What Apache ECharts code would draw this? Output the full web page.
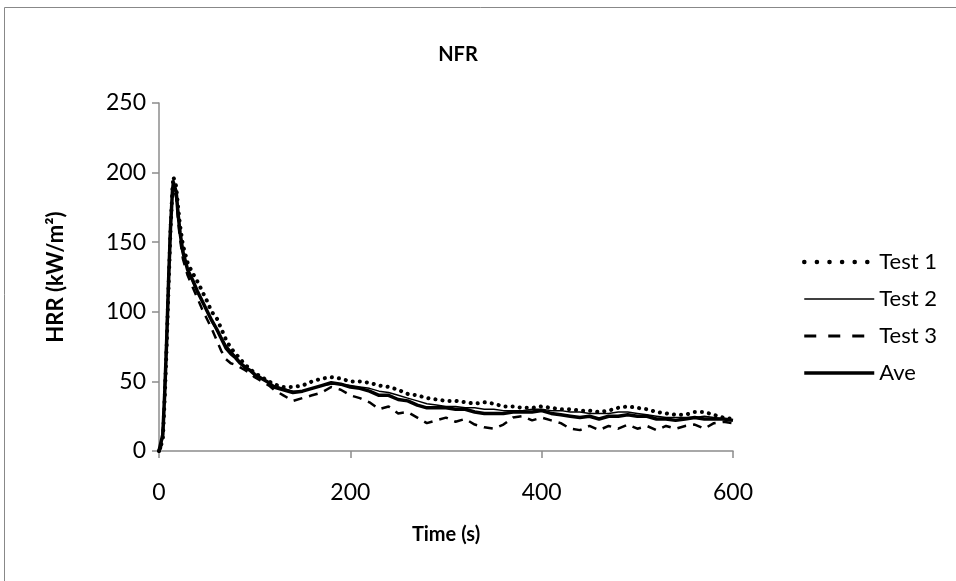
<!DOCTYPE html>
<html>
<head>
<meta charset="utf-8">
<script src="https://cdn.jsdelivr.net/npm/echarts@6/dist/echarts.min.js"></script>
<style>
  html, body { margin: 0; padding: 0; background: #fff; }
  #main { width: 956px; height: 581px; }
</style>
</head>
<body>
<div id="main"></div>
<script>
// time (s)
const times = [0, 2, 4, 6, 8, 10, 12, 14, 15, 16, 18, 20, 22,
  25, 30, 35, 40, 45, 50, 55, 60, 65, 70, 75, 80, 85, 90, 95, 100, 105, 110, 115, 120,
  130, 140, 150, 160, 170, 180, 190, 200, 210, 220, 230, 240, 250, 260, 270, 280, 290, 300,
  310, 320, 330, 340, 350, 360, 370, 380, 390, 400, 410, 420, 430, 440, 450, 460, 470, 480,
  490, 500, 510, 520, 530, 540, 550, 560, 570, 580, 590, 600]

// HRR (kW/m2)
const test1 = [0, 0, 8, 38, 75, 118, 158, 188, 197, 198, 190, 175, 162,
  148, 135, 128, 122, 115, 108, 100, 96, 88, 80, 74, 70, 66, 62, 59, 56, 54, 52, 50, 48,
  46, 46, 47, 50, 52, 53, 52, 50, 50, 49, 47, 46, 44, 41, 40, 38, 37, 36,
  36, 35, 34, 35, 34, 32, 32, 31, 31, 32, 31, 30, 30, 29, 29, 28, 29, 31,
  32, 31, 30, 28, 27, 26, 26, 28, 28, 26, 24, 23]
const test2 = [0, 1, 12, 42, 80, 122, 160, 186, 193, 194, 186, 170, 157,
  142, 130, 122, 114, 108, 100, 93, 87, 82, 76, 72, 68, 64, 61, 58, 55, 53, 51, 49, 47,
  45, 43, 43, 45, 47, 48, 48, 47, 46, 45, 43, 42, 40, 38, 36, 34, 33, 32,
  32, 31, 31, 30, 30, 29, 29, 29, 30, 30, 29, 29, 28, 28, 27, 27, 27, 28,
  28, 27, 26, 25, 24, 24, 24, 24, 25, 24, 23, 22]
const test3 = [0, 2, 15, 45, 82, 125, 162, 185, 190, 190, 182, 165, 152,
  138, 126, 118, 110, 102, 95, 88, 80, 72, 66, 63, 62, 60, 58, 56, 53, 51, 49, 47, 44,
  40, 36, 38, 40, 42, 46, 44, 40, 38, 35, 30, 32, 27, 28, 24, 20, 22, 24,
  21, 23, 19, 17, 16, 19, 24, 25, 22, 24, 22, 20, 16, 15, 18, 15, 18, 16,
  19, 16, 18, 15, 18, 16, 18, 19, 16, 20, 21, 20]
const ave = [0, 1, 12, 42, 79, 122, 160, 186, 193, 194, 186, 170, 157,
  143, 130, 123, 115, 108, 101, 94, 88, 81, 74, 70, 67, 63, 60, 58, 55, 53, 51, 49, 46,
  44, 42, 43, 45, 47, 49, 48, 46, 45, 43, 40, 40, 37, 36, 33, 31, 31, 31,
  30, 30, 28, 27, 27, 27, 28, 28, 28, 29, 27, 26, 25, 24, 25, 23, 25, 25,
  26, 25, 25, 23, 23, 22, 23, 24, 23, 23, 23, 22]

const pairs = arr => times.map((t, i) => [t, arr[i]])

const font = 'Lato, "Open Sans", sans-serif'
const axisGray = '#8c8c8c'

const styles = {
  'Test 1': { color: '#000', width: 4, type: [0.1, 7], cap: 'round' },
  'Test 2': { color: '#000', width: 1.5 },
  'Test 3': { color: '#000', width: 2.5, type: [9, 7] },
  'Ave': { color: '#000', width: 3.5 }
}
const legendStyles = {
  ...styles,
  'Test 1': { color: '#000', width: 4.5, type: [0.1, 12.5], cap: 'round' },
  'Test 3': { color: '#000', width: 3, type: [12, 12] }
}

const chart = echarts.init(document.getElementById('main'), null, { renderer: 'canvas' })

const makeSeries = (name, arr) => ({
  name,
  type: 'line',
  data: pairs(arr),
  symbol: 'none',
  lineStyle: styles[name],
  itemStyle: { color: '#000' }
})

const option = {
  backgroundColor: '#fff',
  animation: false,
  graphic: [{
    type: 'rect',
    shape: { x: 4.5, y: 7.5, width: 1000, height: 620 },
    style: { fill: 'none', stroke: '#888', lineWidth: 1 },
    silent: true
  }],
  title: {
    text: 'NFR',
    left: 453,
    top: 40,
    textAlign: 'center',
    textStyle: { fontFamily: font, fontWeight: 'bold', fontSize: 20, color: '#000' }
  },
  legend: {
    orient: 'vertical',
    left: 797,
    top: 246,
    itemWidth: 70,
    itemHeight: 14,
    itemGap: 15,
    itemStyle: { opacity: 0 },
    textStyle: { fontFamily: font, fontSize: 22, color: '#000' },
    data: ['Test 1', 'Test 2', 'Test 3', 'Ave'].map(name => ({ name, lineStyle: legendStyles[name] }))
  },
  grid: { left: 159, right: 223, top: 103, bottom: 130 },
  xAxis: {
    type: 'value',
    min: 0,
    max: 600,
    interval: 200,
    name: 'Time (s)',
    nameLocation: 'middle',
    nameGap: 74,
    nameTextStyle: { fontFamily: font, fontWeight: 'bold', fontSize: 20, color: '#000' },
    axisLine: { show: true, lineStyle: { color: axisGray, width: 1.5 } },
    axisTick: { show: true, length: 7, lineStyle: { color: axisGray, width: 1.5 } },
    axisLabel: { fontFamily: font, fontSize: 23, color: '#000', margin: 30 },
    splitLine: { show: false }
  },
  yAxis: {
    type: 'value',
    min: 0,
    max: 250,
    interval: 50,
    name: 'HRR (kW/m²)',
    nameLocation: 'middle',
    nameRotate: 90,
    nameGap: 92,
    nameTextStyle: { fontFamily: font, fontWeight: 'bold', fontSize: 22, color: '#000' },
    axisLine: { show: true, lineStyle: { color: axisGray, width: 1.5 } },
    axisTick: { show: true, length: 7, lineStyle: { color: axisGray, width: 1.5 } },
    axisLabel: { fontFamily: font, fontSize: 23, color: '#000', margin: 13 },
    splitLine: { show: false }
  },
  series: [
    makeSeries('Test 1', test1),
    makeSeries('Test 2', test2),
    makeSeries('Test 3', test3),
    makeSeries('Ave', ave)
  ]
}

chart.setOption(option)
</script>
</body>
</html>
